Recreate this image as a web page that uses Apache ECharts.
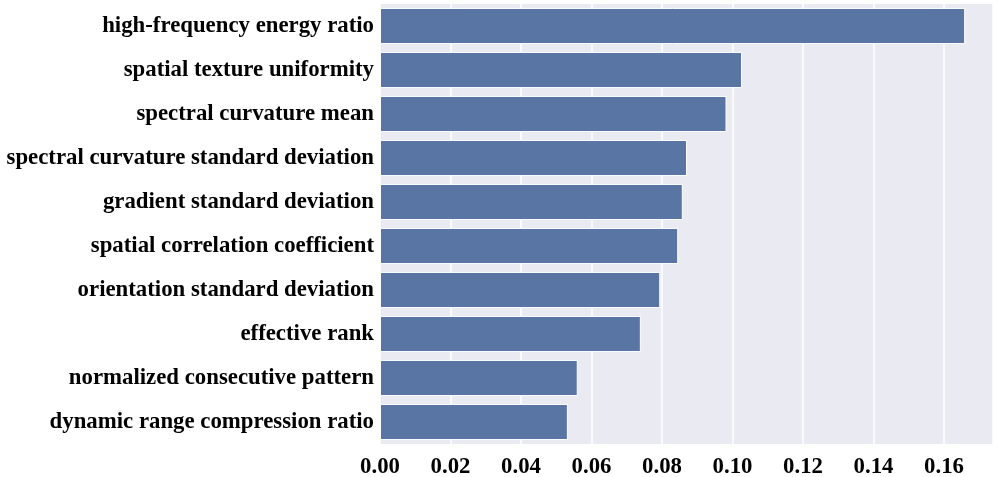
<!DOCTYPE html>
<html><head><meta charset="utf-8">
<script src="https://cdn.jsdelivr.net/npm/echarts@6/dist/echarts.min.js"></script>
<style>html,body{margin:0;padding:0;background:#fff}#c{width:997px;height:477px}</style>
</head><body><div id="c"></div>
<script>
const categories = [
  "high-frequency energy ratio",
  "spatial texture uniformity",
  "spectral curvature mean",
  "spectral curvature standard deviation",
  "gradient standard deviation",
  "spatial correlation coefficient",
  "orientation standard deviation",
  "effective rank",
  "normalized consecutive pattern",
  "dynamic range compression ratio"
];
const importance = [0.1660, 0.1027, 0.0983, 0.0871, 0.0859, 0.0846, 0.0795, 0.0740, 0.0561, 0.0533];
const xTicks = ["0.00","0.02","0.04","0.06","0.08","0.10","0.12","0.14","0.16"];

const chart = echarts.init(document.getElementById('c'));
const font = {fontFamily: '"Liberation Serif","Times New Roman",serif', fontWeight: 'bold', fontSize: 22.8, color: '#000'};
chart.setOption({
  animation: false,
  grid: {left: 380, right: 4, top: 4, bottom: 33, containLabel: false, outerBoundsMode: 'none',
         show: true, backgroundColor: '#EAEAF2', borderWidth: 0},
  xAxis: {
    type: 'value', min: 0, max: 0.1739, interval: 0.02,
    axisLine: {show: false}, axisTick: {show: false},
    splitLine: {show: true, lineStyle: {color: '#fff', width: 1.5}},
    axisLabel: Object.assign({}, font, {margin: 12, showMaxLabel: false,
      formatter: v => { const i = Math.round(v / 0.02); return xTicks[i] !== undefined && Math.abs(v - i*0.02) < 1e-9 ? xTicks[i] : ''; }})
  },
  yAxis: {
    type: 'category', data: categories, inverse: true,
    axisLine: {show: false}, axisTick: {show: false},
    splitLine: {show: false},
    axisLabel: Object.assign({}, font, {margin: 6, padding: [3, 0, 0, 0]})
  },
  series: [{
    type: 'bar', data: importance, barWidth: '82%',
    itemStyle: {color: '#5975A4', borderColor: '#fff', borderWidth: 1}
  }]
});
</script></body></html>
